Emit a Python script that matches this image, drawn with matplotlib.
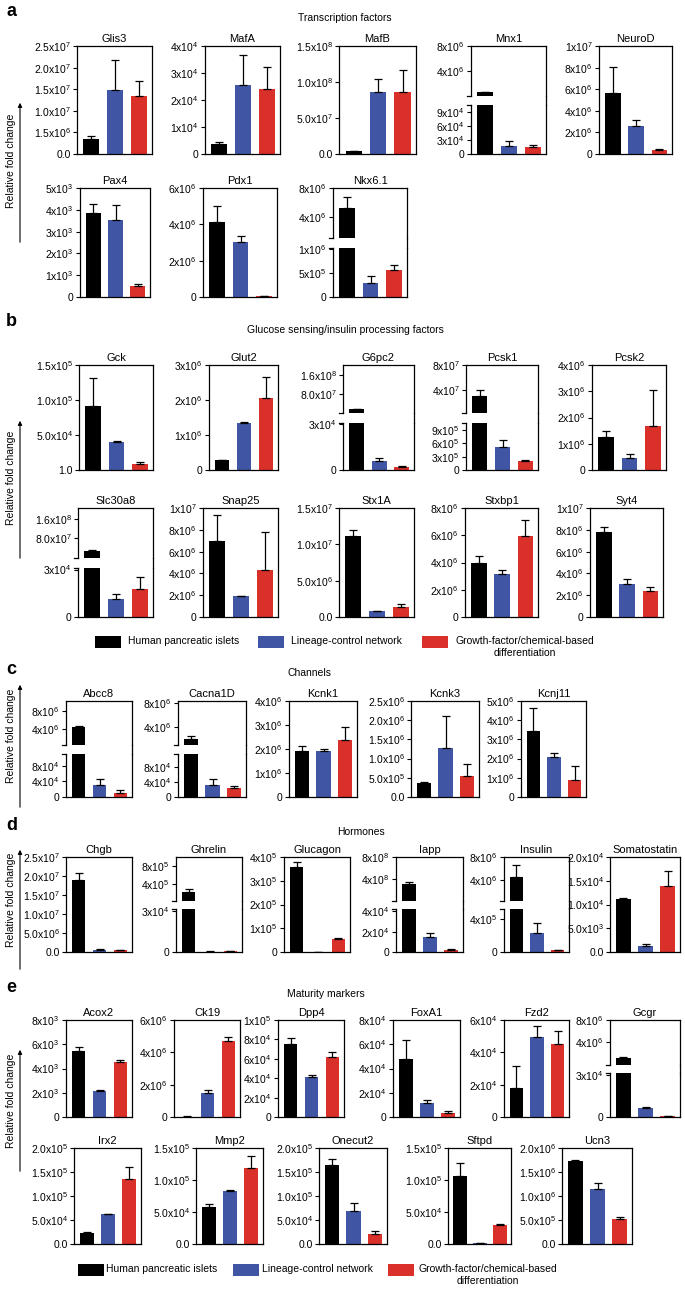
import numpy as np
import matplotlib.pyplot as plt
from matplotlib.lines import Line2D
from matplotlib.patches import Rectangle, FancyArrowPatch

plt.rcParams['font.family'] = ['Liberation Sans', 'DejaVu Sans']
plt.rcParams['mathtext.fontset'] = 'custom'
plt.rcParams['mathtext.rm'] = 'Liberation Sans'
plt.rcParams['mathtext.default'] = 'regular'

W, H = 685, 1289

colors = ['#000000', '#4155a5', '#d9302a']
groups = ['Human pancreatic islets', 'Lineage-control network',
          'Growth-factor/chemical-based\ndifferentiation']

# ---- a: transcription factors ----
genes_a = ['Glis3', 'MafA', 'MafB', 'Mnx1', 'NeuroD', 'Pax4', 'Pdx1', 'Nkx6.1']
islets_a = [3.4e6, 3.8e3, 3.7e6, 6.5e5, 5.67e6, 3.85e3, 4.11e6, 5.24e6]
islets_err_a = [0.75e6, 0.5e3, 0.9e6, 1e5, 2.38e6, 0.42e3, 0.88e6, 1.46e6]
lineage_a = [1.47e7, 2.54e4, 8.6e7, 1.8e4, 2.63e6, 3.55e3, 3.03e6, 2.93e5]
lineage_err_a = [7.1e6, 1.11e4, 1.8e7, 1.1e4, 0.56e6, 0.65e3, 0.33e6, 1.54e5]
growth_a = [1.34e7, 2.39e4, 8.6e7, 1.6e4, 3.4e5, 0.52e3, 5e4, 5.67e5]
growth_err_a = [3.6e6, 8.4e3, 3.1e7, 3e3, 1.6e5, 0.09e3, 2e4, 1.13e5]
ymax_a = [2.5e7, 4e4, 1.5e8, 8e6, 1e7, 5e3, 6e6, 8e6]
breaks_a = [None, None, None, (1.05e5, 1.05e5), None, None, None, (1.03e6, 1.1e6)]
ticks_a = [
    ['0.0', (5e6, '1.5x10^6'), '1.0x10^7', '1.5x10^7', '2.0x10^7', '2.5x10^7'],
    ['0', '1x10^4', '2x10^4', '3x10^4', '4x10^4'],
    ['0.0', '5.0x10^7', '1.0x10^8', '1.5x10^8'],
    ['0', '3x10^4', '6x10^4', '9x10^4', '4x10^6', '8x10^6'],
    ['0', '2x10^6', '4x10^6', '6x10^6', '8x10^6', '1x10^7'],
    ['0', '1x10^3', '2x10^3', '3x10^3', '4x10^3', '5x10^3'],
    ['0', '2x10^6', '4x10^6', '6x10^6'],
    ['0', '5x10^5', '1x10^6', '4x10^6', '8x10^6'],
]

# ---- b: glucose sensing / insulin processing ----
genes_b = ['Gck', 'Glut2', 'G6pc2', 'Pcsk1', 'Pcsk2',
           'Slc30a8', 'Snap25', 'Stx1A', 'Stxbp1', 'Syt4']
islets_b = [9.2e4, 2.9e5, 1.6e7, 3.07e7, 1.27e6, 2.9e7, 7.0e6, 1.12e7, 3.96e6, 7.77e6]
islets_err_b = [3.9e4, 1e4, 1.5e6, 9.3e6, 2.1e5, 6e6, 2.4e6, 8e5, 5.4e5, 5.3e5]
lineage_b = [4.05e4, 1.33e6, 6.2e3, 5.1e5, 4.7e5, 1.14e4, 1.9e6, 7.8e5, 3.16e6, 3.06e6]
lineage_err_b = [1e3, 5e4, 1.4e3, 1.7e5, 1.3e5, 3e3, 3e4, 9e4, 3.1e5, 4.3e5]
growth_b = [8.6e3, 2.07e6, 1.7e3, 2.0e5, 1.67e6, 1.8e4, 4.34e6, 1.33e6, 5.97e6, 2.42e6]
growth_err_b = [2.4e3, 6e5, 1e3, 3e4, 1.37e6, 7e3, 3.43e6, 5e5, 1.17e6, 3e5]
ymax_b = [1.5e5, 3e6, 2.02e8, 8e7, 4e6, 2.04e8, 1e7, 1.5e7, 8e6, 1e7]
breaks_b = [None, None, (3.1e4, 3.1e4), (1.06e6, 3.3e6), None,
            (3.1e4, 3.1e4), None, None, None, None]
ticks_b = [
    [(0, '1.0'), '5.0x10^4', '1.0x10^5', '1.5x10^5'],
    ['0', '1x10^6', '2x10^6', '3x10^6'],
    ['0', '3x10^4', '8.0x10^7', '1.6x10^8'],
    ['0', '3x10^5', '6x10^5', '9x10^5', '4x10^7', '8x10^7'],
    ['0', '1x10^6', '2x10^6', '3x10^6', '4x10^6'],
    ['0', '3x10^4', '8.0x10^7', '1.6x10^8'],
    ['0', '2x10^6', '4x10^6', '6x10^6', '8x10^6', '1x10^7'],
    ['0.0', '5.0x10^6', '1.0x10^7', '1.5x10^7'],
    ['0', '2x10^6', '4x10^6', '6x10^6', '8x10^6'],
    ['0', '2x10^6', '4x10^6', '6x10^6', '8x10^6', '1x10^7'],
]

# ---- c: channels ----
genes_c = ['Abcc8', 'Cacna1D', 'Kcnk1', 'Kcnk3', 'Kcnj11']
islets_c = [4.5e6, 2.17e6, 1.9e6, 3.75e5, 3.44e6]
islets_err_c = [5e4, 5e5, 2.2e5, 1e4, 1.18e6]
lineage_c = [3.2e4, 3.2e4, 1.9e6, 1.28e6, 2.09e6]
lineage_err_c = [1.3e4, 1.5e4, 8e4, 8.3e5, 2.1e5]
growth_c = [1.0e4, 2.3e4, 2.37e6, 5.4e5, 8.7e5]
growth_err_c = [7e3, 6e3, 5.5e5, 3.1e5, 7.5e5]
ymax_c = [1.04e7, 8.3e6, 4e6, 2.5e6, 5e6]
breaks_c = [(1.11e5, 2.4e5), (1.15e5, 1.1e6), None, None, None]
ticks_c = [
    ['0', '4x10^4', '8x10^4', '4x10^6', '8x10^6'],
    ['0', '4x10^4', '8x10^4', '4x10^6', '8x10^6'],
    ['0', '1x10^6', '2x10^6', '3x10^6', '4x10^6'],
    ['0.0', '5.0x10^5', '1.0x10^6', '1.5x10^6', '2.0x10^6', '2.5x10^6'],
    ['0', '1x10^6', '2x10^6', '3x10^6', '4x10^6', '5x10^6'],
]

# ---- d: hormones ----
genes_d = ['Chgb', 'Ghrelin', 'Glucagon', 'Iapp', 'Insulin', 'Somatostatin']
islets_d = [1.9e7, 2.26e5, 3.6e5, 3.08e8, 4.6e6, 1.12e4]
islets_err_d = [1.8e6, 5.4e4, 2.1e4, 4.2e7, 2.0e6, 2e2]
lineage_d = [6e5, 3e2, 1e3, 1.5e4, 2.35e5, 1.2e3]
lineage_err_d = [2e5, 1e2, 0, 3.5e3, 1.15e5, 5e2]
growth_d = [4e5, 6e2, 5.6e4, 2.3e3, 2e4, 1.4e4]
growth_err_d = [2e5, 2e2, 3e3, 1e3, 1e4, 3.1e3]
ymax_d = [2.5e7, 9.9e5, 4e5, 8e8, 8e6, 2e4]
breaks_d = [None, (3.16e4, 3.16e4), None, (4.2e4, 4.2e4), (5.2e5, 5.2e5), None]
ticks_d = [
    ['0.0', '5.0x10^6', '1.0x10^7', '1.5x10^7', '2.0x10^7', '2.5x10^7'],
    ['0', '3x10^4', '4x10^5', '8x10^5'],
    ['0', '1x10^5', '2x10^5', '3x10^5', '4x10^5'],
    ['0', '2x10^4', '4x10^4', '4x10^8', '8x10^8'],
    ['0', '4x10^5', '4x10^6', '8x10^6'],
    ['0.0', '5.0x10^3', '1.0x10^4', '1.5x10^4', '2.0x10^4'],
]

# ---- e: maturity markers ----
genes_e = ['Acox2', 'Ck19', 'Dpp4', 'FoxA1', 'Fzd2', 'Gcgr',
           'Irx2', 'Mmp2', 'Onecut2', 'Sftpd', 'Ucn3']
islets_e = [5.44e3, 3e4, 7.52e4, 4.78e4, 1.78e4, 1.3e6, 2.2e4, 5.8e4, 1.64e5, 1.07e5, 1.735e6]
islets_err_e = [3.6e2, 1e4, 5.8e3, 1.61e4, 1.35e4, 1e5, 2e3, 4.5e3, 1.3e4, 2e4, 1.5e4]
lineage_e = [2.15e3, 1.49e6, 4.14e4, 1.19e4, 4.95e4, 6.1e3, 6.25e4, 8.33e4, 6.97e4, 1e3, 1.14e6]
lineage_err_e = [1.1e2, 1.7e5, 1.7e3, 2.5e3, 6.9e3, 7e2, 1e3, 1e3, 1.67e4, 2e2, 1.3e5]
growth_e = [4.55e3, 4.72e6, 6.2e4, 3.6e3, 4.49e4, 4e2, 1.35e5, 1.19e5, 2.09e4, 2.93e4, 5.2e5]
growth_err_e = [1.4e2, 2e5, 4.6e3, 1.1e3, 8e3, 1e2, 2.5e4, 1.85e4, 7e3, 1.7e3, 5e4]
ymax_e = [8e3, 6e6, 1e5, 8e4, 6e4, 8e6, 2e5, 1.5e5, 2e5, 1.5e5, 2e6]
breaks_e = [None, None, None, None, None, (3.1e4, 3.1e4), None, None, None, None, None]
ticks_e = [
    ['0', '2x10^3', '4x10^3', '6x10^3', '8x10^3'],
    ['0', '2x10^6', '4x10^6', '6x10^6'],
    ['0', '2x10^4', '4x10^4', '6x10^4', '8x10^4', '1x10^5'],
    ['0', '2x10^4', '4x10^4', '6x10^4', '8x10^4'],
    ['0', '2x10^4', '4x10^4', '6x10^4'],
    ['0', '3x10^4', '4x10^6', '8x10^6'],
    ['0.0', '5.0x10^4', '1.0x10^5', '1.5x10^5', '2.0x10^5'],
    ['0.0', '5.0x10^4', '1.0x10^5', '1.5x10^5'],
    ['0.0', '5.0x10^4', '1.0x10^5', '1.5x10^5', '2.0x10^5'],
    ['0.0', '5.0x10^4', '1.0x10^5', '1.5x10^5'],
    ['0.0', '5.0x10^5', '1.0x10^6', '1.5x10^6', '2.0x10^6'],
]

# panel boxes in pixels: (x0, x1, ytop, ybottom)
def row(xs, y0, y1):
    return [(a, b, y0, y1) for a, b in xs]

boxes_a = row([(77, 152), (205, 280), (339, 416), (471, 546), (599, 672)], 46, 154) + \
    row([(80, 150), (203, 277), (333, 407)], 188, 297)
boxes_b = row([(79, 153), (209, 278), (343, 414), (466, 538), (592, 666)], 365, 470) + \
    row([(78, 153), (203, 278), (339, 414), (465, 538), (590, 663)], 508, 617)
boxes_c = row([(66, 132), (178, 246), (289, 357), (411, 479), (521, 586)], 701, 797)
boxes_d = row([(66, 132), (176, 242), (284, 350), (396, 463), (504, 569), (610, 680)], 857, 952)
boxes_e = row([(66, 132), (174, 240), (278, 344), (393, 460), (504, 569), (610, 680)], 1020, 1117) + \
    row([(74, 141), (196, 263), (319, 387), (448, 511), (562, 632)], 1148, 1244)

fig = plt.figure(figsize=(W / 100, H / 100), dpi=100)


def fx(x):
    return x / W


def fy(y):
    return 1 - y / H


def add_ax(x0, x1, y0, y1):
    return fig.add_axes([fx(x0), fy(y1), (x1 - x0) / W, (y1 - y0) / H])


def tick_value(t):
    if isinstance(t, tuple):
        return t[0]
    if 'x10^' in t:
        m, e = t.split('x10^')
        return float(m) * 10 ** int(e)
    return float(t)


def tick_text(t):
    if isinstance(t, tuple):
        t = t[1]
    if 'x10^' in t:
        m, e = t.split('x10^')
        return m + 'x10$^{' + e + '}$'
    return t


def base_style(ax, entries):
    ax.set_yticks([tick_value(t) for t in entries])
    ax.set_yticklabels([tick_text(t) for t in entries])
    ax.tick_params(axis='y', direction='out', length=3, width=0.8, labelsize=7.5, pad=1.5)
    ax.set_xticks([])
    for s in ax.spines.values():
        s.set_linewidth(0.9)


def draw_bars(ax, vals, errs, lo=-1.0, hi=np.inf):
    xs = np.arange(3)
    ax.bar(xs, vals, width=0.66, color=colors, linewidth=0)
    keep = [i for i in range(3) if lo < vals[i] <= hi]
    if keep:
        ax.errorbar(xs[keep], [vals[i] for i in keep],
                    yerr=[np.zeros(len(keep)), [errs[i] for i in keep]],
                    fmt='none', ecolor='black', elinewidth=0.9, capsize=3, capthick=0.9)
    ax.set_xlim(-0.6, 2.55)


def panel(box, gene, vals, errs, ymax, brk, ticks):
    x0, x1, y0, y1 = box
    if brk is None:
        ax = add_ax(x0, x1, y0, y1)
        draw_bars(ax, vals, errs)
        ax.set_ylim(0, ymax)
        base_style(ax, ticks)
        ax.set_title(gene, fontsize=8, pad=3)
        return
    h = y1 - y0
    yu = y0 + 0.46 * h
    yl = y0 + 0.55 * h
    up = add_ax(x0, x1, y0, yu)
    lo = add_ax(x0, x1, yl, y1)
    draw_bars(up, vals, errs, lo=brk[1])
    draw_bars(lo, vals, errs, hi=brk[0])
    lo.set_ylim(0, brk[0])
    up.set_ylim(brk[1], ymax)
    base_style(lo, [t for t in ticks if tick_value(t) <= brk[0]])
    base_style(up, [t for t in ticks if tick_value(t) > brk[0]])
    up.spines['bottom'].set_visible(False)
    lo.spines['top'].set_visible(False)
    up.plot([-0.06, 0], [0, 0], transform=up.transAxes, clip_on=False, color='k', lw=0.9)
    lo.plot([-0.06, 0], [1, 1], transform=lo.transAxes, clip_on=False, color='k', lw=0.9)
    fig.add_artist(Line2D([fx(x1), fx(x1)], [fy(yu), fy(yl)], color='k', lw=0.9))
    up.set_title(gene, fontsize=8, pad=3)


def section(letter, ly, title, tx, ty, boxes, genes, isl, isl_e, lin, lin_e, gro, gro_e,
            ymaxs, brks, ticks, arrow):
    fig.text(fx(6), fy(ly), letter, fontsize=13, fontweight='bold', va='center')
    fig.text(fx(tx), fy(ty), title, fontsize=7.5, ha='center', va='center')
    for i, g in enumerate(genes):
        panel(boxes[i], g, [isl[i], lin[i], gro[i]], [isl_e[i], lin_e[i], gro_e[i]],
              ymaxs[i], brks[i], ticks[i])
    a0, a1 = arrow
    fig.add_artist(FancyArrowPatch((fx(20), fy(a1)), (fx(20), fy(a0)),
                                   transform=fig.transFigure, arrowstyle='-|>',
                                   mutation_scale=6, lw=0.8, color='k'))
    fig.text(fx(11), fy(a0 + (a1 - a0) * 0.42), 'Relative fold change', rotation=90,
             fontsize=7.5, ha='center', va='center')


def legend(y, xs_patch, xs_text):
    for c, xp, xt, lab in zip(colors, xs_patch, xs_text, groups):
        fig.add_artist(Rectangle((fx(xp), fy(y + 6)), 26 / W, 12 / H,
                                 transform=fig.transFigure, color=c, lw=0))
        fig.text(fx(xt), fy(y - 6), lab, fontsize=7.5, ha='left', va='top',
                 multialignment='center', linespacing=1.2)


section('a', 12, 'Transcription factors', 345, 18, boxes_a, genes_a,
        islets_a, islets_err_a, lineage_a, lineage_err_a, growth_a, growth_err_a,
        ymax_a, breaks_a, ticks_a, (100, 245))
section('b', 322, 'Glucose sensing/insulin processing factors', 345, 330, boxes_b, genes_b,
        islets_b, islets_err_b, lineage_b, lineage_err_b, growth_b, growth_err_b,
        ymax_b, breaks_b, ticks_b, (418, 561))
legend(642, [95, 258, 422], [128, 291, 455])
section('c', 670, 'Channels', 310, 673, boxes_c, genes_c,
        islets_c, islets_err_c, lineage_c, lineage_err_c, growth_c, growth_err_c,
        ymax_c, breaks_c, ticks_c, (682, 810))
section('d', 826, 'Hormones', 361, 832, boxes_d, genes_d,
        islets_d, islets_err_d, lineage_d, lineage_err_d, growth_d, growth_err_d,
        ymax_d, breaks_d, ticks_d, (847, 972))
section('e', 987, 'Maturity markers', 326, 994, boxes_e, genes_e,
        islets_e, islets_err_e, lineage_e, lineage_err_e, growth_e, growth_err_e,
        ymax_e, breaks_e, ticks_e, (1047, 1174))
legend(1270, [78, 233, 388], [106, 262, 418])

fig.savefig('out.png', dpi=100)
